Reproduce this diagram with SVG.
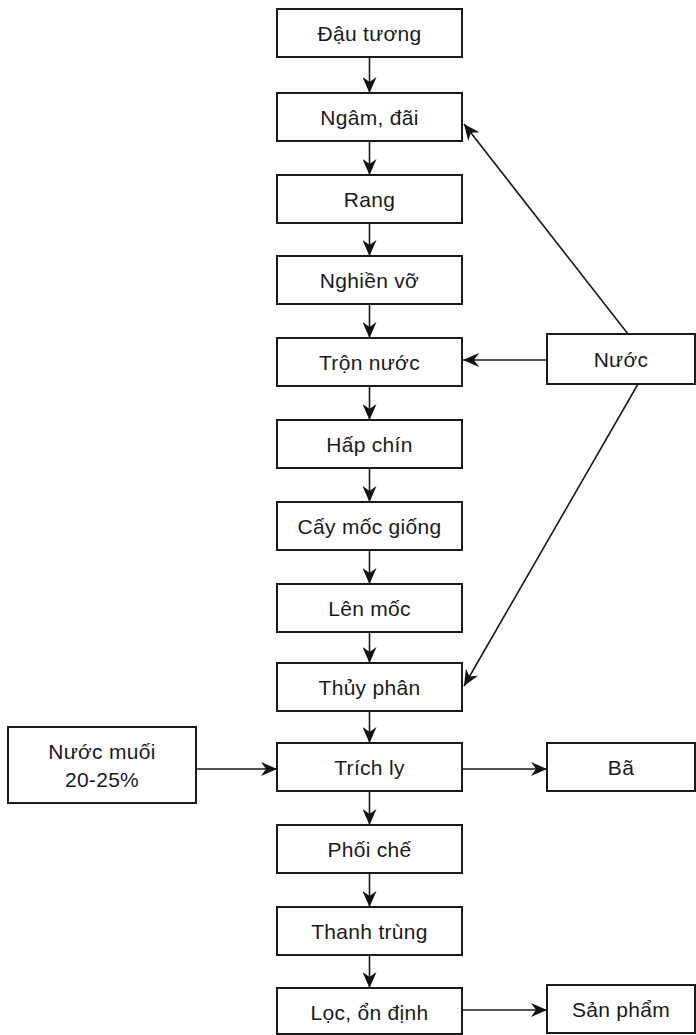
<svg xmlns="http://www.w3.org/2000/svg" width="696" height="1035" viewBox="0 0 696 1035">
<defs>
<marker id="ah" viewBox="0 0 16 14" refX="16" refY="7" markerWidth="16" markerHeight="14" orient="auto" markerUnits="userSpaceOnUse">
<path d="M0,0 L16,7 L0,14 L5,7 z" fill="#111"/>
</marker>
<style>
.b{fill:#fff;stroke:#1a1a1a;stroke-width:2}
.t{font-family:"Liberation Sans",Arial,sans-serif;font-size:21px;letter-spacing:0.3px;fill:#1a1a1a;text-anchor:middle}
.c{stroke:#1a1a1a;stroke-width:1.6;fill:none;marker-end:url(#ah)}
</style>
</defs>
<rect width="696" height="1035" fill="#fff"/>
<g id="n1"><rect class="b" x="277" y="9" width="185" height="48"/><text class="t" x="369.5" y="41">Đậu tương</text></g>
<g id="n2"><rect class="b" x="277" y="93" width="185" height="48"/><text class="t" x="369.5" y="125">Ngâm, đãi</text></g>
<g id="n3"><rect class="b" x="277" y="175" width="185" height="48"/><text class="t" x="369.5" y="207">Rang</text></g>
<g id="n4"><rect class="b" x="277" y="256" width="185" height="48"/><text class="t" x="369.5" y="288">Nghiền vỡ</text></g>
<g id="n5"><rect class="b" x="277" y="338" width="185" height="48"/><text class="t" x="369.5" y="370">Trộn nước</text></g>
<g id="n6"><rect class="b" x="277" y="420" width="185" height="48"/><text class="t" x="369.5" y="452">Hấp chín</text></g>
<g id="n7"><rect class="b" x="277" y="502" width="185" height="48"/><text class="t" x="369.5" y="534">Cấy mốc giống</text></g>
<g id="n8"><rect class="b" x="277" y="584" width="185" height="48"/><text class="t" x="369.5" y="616">Lên mốc</text></g>
<g id="n9"><rect class="b" x="277" y="663" width="185" height="48"/><text class="t" x="369.5" y="695">Thủy phân</text></g>
<g id="n10"><rect class="b" x="277" y="743" width="185" height="48"/><text class="t" x="369.5" y="775">Trích ly</text></g>
<g id="n11"><rect class="b" x="277" y="825" width="185" height="48"/><text class="t" x="369.5" y="857">Phối chế</text></g>
<g id="n12"><rect class="b" x="277" y="907" width="185" height="48"/><text class="t" x="369.5" y="939">Thanh trùng</text></g>
<g id="n13"><rect class="b" x="277" y="988" width="185" height="46"/><text class="t" x="369.5" y="1020">Lọc, ổn định</text></g>
<g id="nuoc"><rect class="b" x="547" y="334" width="148" height="50"/><text class="t" x="621" y="367">Nước</text></g>
<g id="muoi"><rect class="b" x="8" y="727" width="188" height="76"/><text class="t" x="102" y="759">Nước muối</text><text class="t" x="102" y="787">20-25%</text></g>
<g id="ba"><rect class="b" x="547" y="743" width="148" height="48"/><text class="t" x="621" y="775">Bã</text></g>
<g id="sp"><rect class="b" x="547" y="985" width="148" height="48"/><text class="t" x="621" y="1017">Sản phẩm</text></g>
<g id="connectors">
<line class="c" x1="369.5" y1="57" x2="369.5" y2="93"/>
<line class="c" x1="369.5" y1="141" x2="369.5" y2="175"/>
<line class="c" x1="369.5" y1="223" x2="369.5" y2="256"/>
<line class="c" x1="369.5" y1="304" x2="369.5" y2="338"/>
<line class="c" x1="369.5" y1="386" x2="369.5" y2="420"/>
<line class="c" x1="369.5" y1="468" x2="369.5" y2="502"/>
<line class="c" x1="369.5" y1="550" x2="369.5" y2="584"/>
<line class="c" x1="369.5" y1="632" x2="369.5" y2="663"/>
<line class="c" x1="369.5" y1="711" x2="369.5" y2="743"/>
<line class="c" x1="369.5" y1="791" x2="369.5" y2="825"/>
<line class="c" x1="369.5" y1="873" x2="369.5" y2="907"/>
<line class="c" x1="369.5" y1="955" x2="369.5" y2="988"/>
<line class="c" x1="547" y1="360" x2="463" y2="360"/>
<line class="c" x1="628" y1="334" x2="464" y2="124"/>
<line class="c" x1="638" y1="384" x2="464" y2="686"/>
<line class="c" x1="196" y1="769" x2="277" y2="769"/>
<line class="c" x1="462" y1="769" x2="547" y2="769"/>
<line class="c" x1="462" y1="1010" x2="547" y2="1010"/>
</g>
</svg>
